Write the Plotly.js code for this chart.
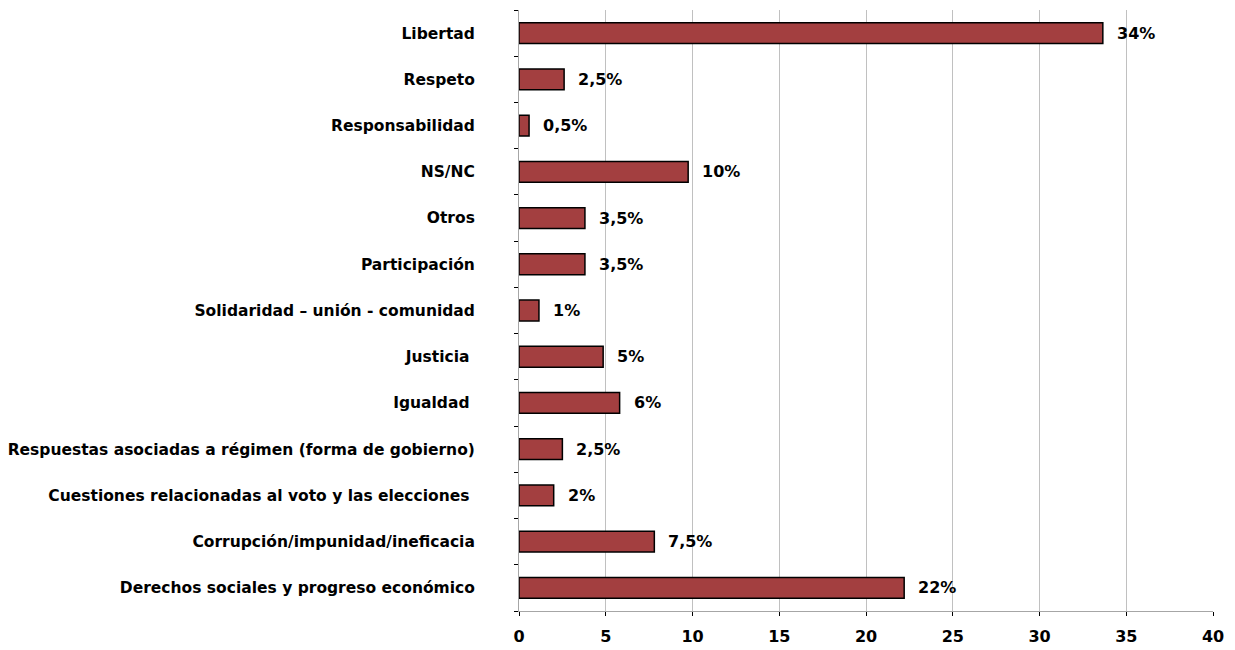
<!DOCTYPE html>
<html>
<head>
<meta charset="utf-8">
<script src="https://cdn.plot.ly/plotly-3.0.1.min.js"></script>
<style>html,body{margin:0;padding:0;background:#fff;}#chart{width:1235px;height:650px;}</style>
</head>
<body>
<div id="chart"></div>
<script>
// Categories listed bottom to top
const categories = [
  "Derechos sociales y progreso económico",
  "Corrupción/impunidad/ineficacia",
  "Cuestiones relacionadas al voto y las elecciones ",
  "Respuestas asociadas a régimen (forma de gobierno)",
  "Igualdad ",
  "Justicia ",
  "Solidaridad – unión - comunidad",
  "Participación",
  "Otros",
  "NS/NC",
  "Responsabilidad",
  "Respeto",
  "Libertad"
];
const values = [22.2, 7.8, 2.0, 2.5, 5.8, 4.85, 1.15, 3.8, 3.8, 9.75, 0.58, 2.6, 33.65];
const labels = ["22%", "7,5%", "2%", "2,5%", "6%", "5%", "1%", "3,5%", "3,5%", "10%", "0,5%", "2,5%", "34%"];
const xTicks = [0, 5, 10, 15, 20, 25, 30, 35, 40];

const font = "DejaVu Sans, Noto Sans, sans-serif";

const trace = {
  type: "bar",
  orientation: "h",
  y: categories,
  x: values,
  marker: {color: "#A33F40", line: {color: "#000", width: 1.5}},
  width: 0.45,
  hoverinfo: "none"
};

const annotations = categories.map((c, i) => ({
  x: values[i],
  y: c,
  xref: "x",
  yref: "y",
  text: labels[i],
  showarrow: false,
  xanchor: "left",
  yanchor: "middle",
  xshift: 12,
  font: {family: font, size: 16, color: "#000", weight: "bold"}
}));

const layout = {
  width: 1235,
  height: 650,
  margin: {l: 519, r: 22, t: 10, b: 39},
  paper_bgcolor: "#fff",
  plot_bgcolor: "#fff",
  showlegend: false,
  font: {family: font, size: 15, color: "#000"},
  annotations: annotations,
  xaxis: {
    range: [0, 40],
    tickvals: xTicks,
    ticktext: xTicks.map(String),
    tickfont: {family: font, size: 16, color: "#000", weight: "bold"},
    showgrid: true,
    gridcolor: "#c0c0c0",
    gridwidth: 1,
    zeroline: false,
    showline: true,
    linecolor: "#a6a6a6",
    linewidth: 1,
    ticks: "outside",
    ticklen: 4,
    tickcolor: "#000",
    ticklabelstandoff: 7,
    fixedrange: true
  },
  yaxis: {
    type: "category",
    categoryorder: "array",
    categoryarray: categories,
    tickfont: {family: font, size: 15.5, color: "#000", weight: "bold"},
    showgrid: false,
    zeroline: false,
    showline: true,
    linecolor: "#a6a6a6",
    linewidth: 1,
    ticks: "outside",
    tickson: "boundaries",
    ticklen: 4,
    tickcolor: "#000",
    ticklabelstandoff: 40,
    fixedrange: true
  }
};

Plotly.newPlot("chart", [trace], layout, {displayModeBar: false, staticPlot: true});
</script>
</body>
</html>
